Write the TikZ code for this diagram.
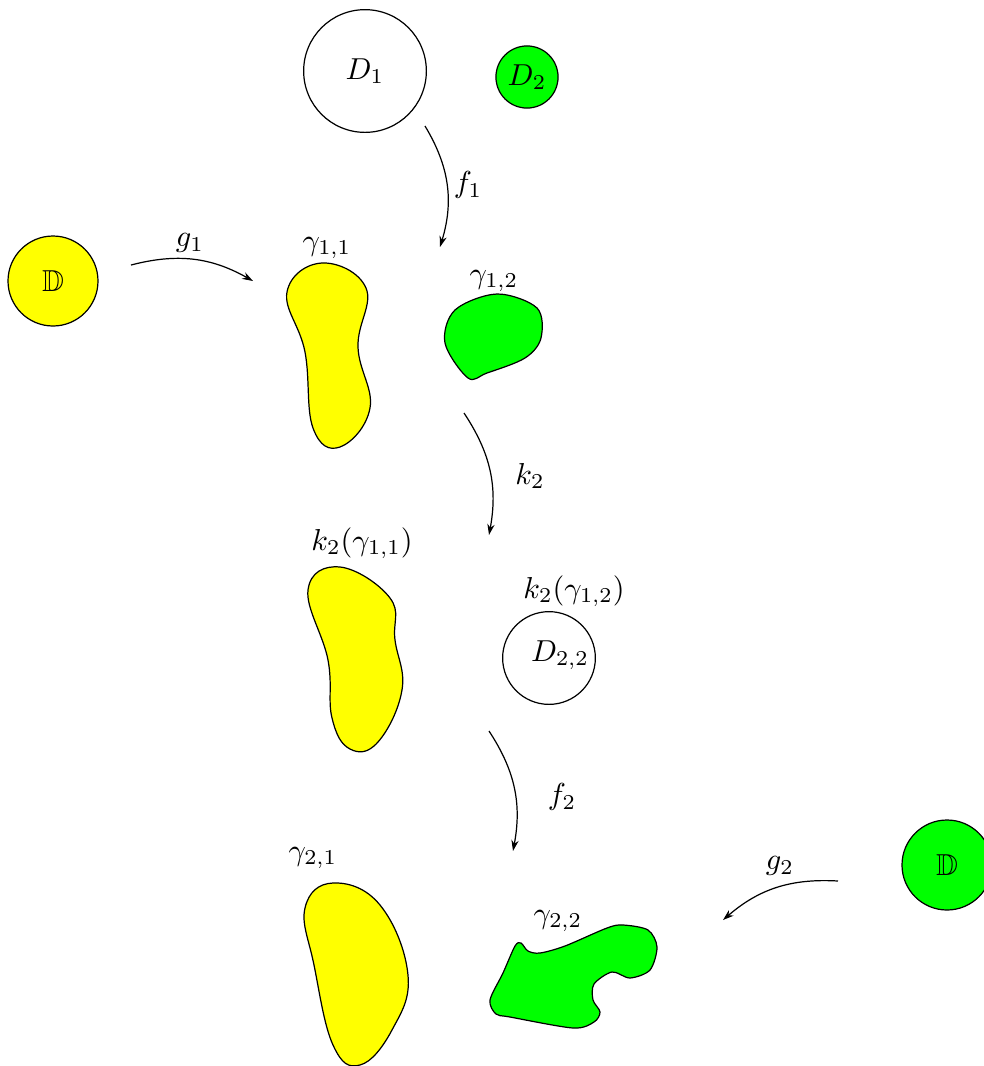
\documentclass[tikz,border=0pt]{standalone}
\usepackage{amssymb}
\usetikzlibrary{arrows.meta}
\definecolor{pgreen}{RGB}{0,255,0}
\definecolor{pyellow}{RGB}{255,255,0}
\begin{document}
\begin{tikzpicture}[x=0.33pt,y=-0.33pt,
  disk/.style={draw, circle, inner sep=0pt, line width=0.4pt},
  blob/.style={draw, line width=0.4pt},
  map/.style={line width=0.4pt, -{Stealth[length=3.6pt,width=2.4pt]}},
  lbl/.style={inner sep=0pt}]
\useasboundingbox (0,0) rectangle (984,1066);

% disks
\node[disk, minimum size=40.5pt] (D1) at (365,71) {$D_1$};
\node[disk, fill=pgreen, minimum size=20.5pt] (D2) at (527,77) {$D_2$};
\node[disk, fill=pyellow, minimum size=29.7pt] (Dy) at (53,281) {$\mathbb{D}$};
\node[disk, fill=pgreen, minimum size=29.7pt] (Dg) at (947,865) {$\mathbb{D}$};
\node[disk, minimum size=30.6pt] (D22) at (549,658) {};
\node[lbl] (D22t) at (560,655) {$D_{2,2}$};

% blobs
\draw[blob, fill=pyellow] plot[smooth cycle, tension=0.7] coordinates
  {(322,263) (366,288) (358,347) (370,408) (340,447) (313,428) (305,352) (287,292)};
\node[lbl] (g11) at (327,248) {$\gamma_{1,1}$};

\draw[blob, fill=pgreen] plot[smooth cycle, tension=0.55] coordinates
  {(455,310) (497,294) (537,308) (541,338) (525,358) (487,373) (468,378) (445,343)};
\node[lbl] (g12) at (494,281) {$\gamma_{1,2}$};

\draw[blob, fill=pyellow] plot[smooth cycle, tension=0.7] coordinates
  {(340,567) (390,598) (395,640) (402,690) (378,742) (350,749) (332,718) (328,660) (308,590)};
\node[lbl] (k11) at (362,543) {$k_2(\gamma_{1,1})$};
\node[lbl] (k12) at (574,591) {$k_2(\gamma_{1,2})$};

\draw[blob, fill=pyellow] plot[smooth cycle, tension=0.7] coordinates
  {(333,883) (380,905) (408,975) (392,1030) (360,1065) (333,1045) (314,965) (305,908)};
\node[lbl] (g21) at (313,858) {$\gamma_{2,1}$};

\draw[blob, fill=pgreen] plot[smooth cycle, tension=0.5] coordinates
  {(521,943) (528,951) (540,953) (565,946) (607,928) (623,925) (648,930) (657,947) (650,970) (630,978) (612,972) (594,984) (593,1000) (600,1012) (594,1022) (573,1028) (510,1017) (496,1014) (490,1000) (503,973) (515,946)};
\node[lbl] (g22) at (558,921) {$\gamma_{2,2}$};

% maps
\coordinate (f1s) at (425,126); \coordinate (f1e) at (440,247);
\coordinate (g1s) at (131,265); \coordinate (g1e) at (253,281);
\coordinate (k2s) at (464,413); \coordinate (k2e) at (489,535);
\coordinate (f2s) at (489,731); \coordinate (f2e) at (513,851);
\coordinate (g2s) at (838,881); \coordinate (g2e) at (723,920);

\draw[map] (f1s) to[bend left=24] (f1e);
\draw[map] (g1s) to[bend left=22] (g1e);
\draw[map] (k2s) to[bend left=22] (k2e);
\draw[map] (f2s) to[bend left=22] (f2e);
\draw[map] (g2s) to[bend right=22] (g2e);

\node[lbl] (f1t) at (468,185) {$f_1$};
\node[lbl] (g1t) at (190,243) {$g_1$};
\node[lbl] (k2t) at (530,476) {$k_2$};
\node[lbl] (f2t) at (562,797) {$f_2$};
\node[lbl] (g2t) at (780,866) {$g_2$};
\end{tikzpicture}
\end{document}
